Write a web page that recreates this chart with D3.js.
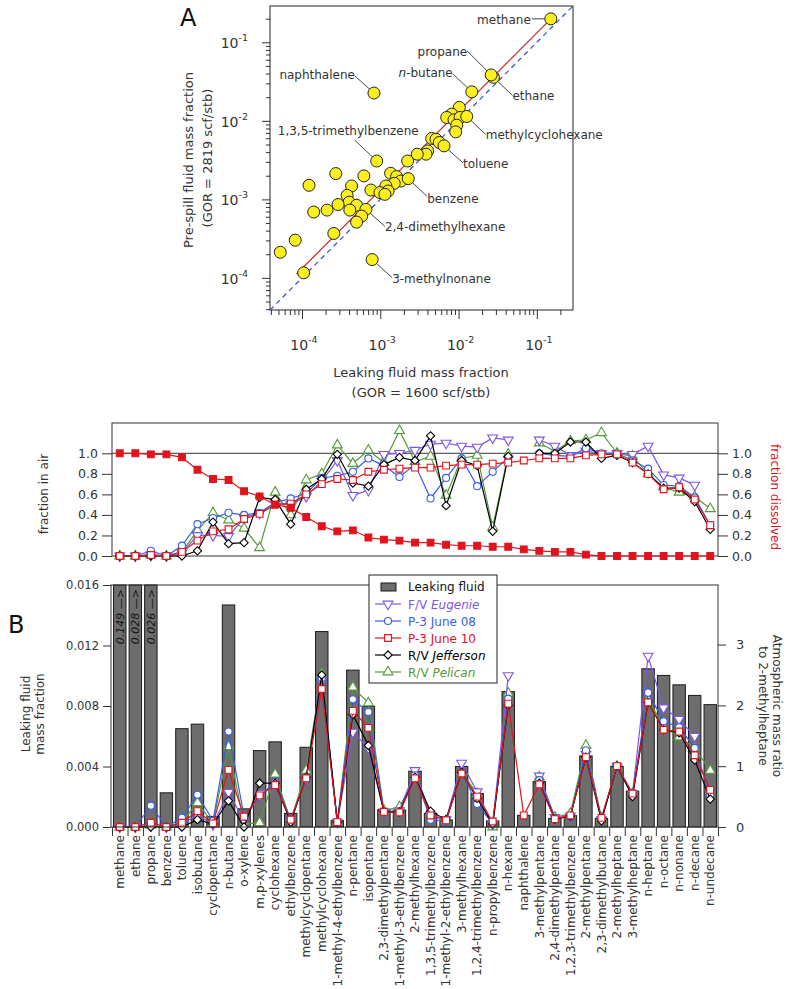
<!DOCTYPE html>
<html>
<head>
<meta charset="utf-8">
<script src="https://cdn.jsdelivr.net/npm/d3@7"></script>
<style>
body { margin: 0; background: #fff; }
svg text { fill: #333; }
.axis line { stroke: #333; }
</style>
</head>
<body>
<div id="chart"></div>
<script>
// ---------- data ----------
// panel A: mass fractions, leaking fluid (x) vs pre-spill fluid (y)
var scatterLeak = [0.151, 0.0279, 0.0261, 0.01476, 8.3e-4, 0.01023, 0.00818, 0.00706, 0.00875, 0.01045,
    0.01273, 0.00948, 0.0092, 0.00454, 0.00515, 0.00568, 0.00652, 0.00403, 0.00384, 0.00297,
    0.00224, 9.0e-4, 2.7e-4, 6.17e-4, 0.001355, 0.001617, 0.001836, 0.002278, 0.001507, 1.23e-4,
    4.3e-4, 0.00118, 7.59e-4, 9.9e-4, 0.00126, 0.001145, 3.77e-4, 4.0e-4, 2.89e-4, 4.98e-4,
    6.55e-4, 1.41e-4, 2.09e-4, 4.08e-4, 5.77e-4, 4.98e-4, 2.55e-4, 7.87e-4, 5.28e-5, 8.2e-5, 1.05e-4];
var scatterPre = [0.199, 0.0358, 0.0384, 0.0234, 0.0226, 0.01483, 0.01219, 0.01104, 0.0103, 0.01104,
    0.01137, 0.00881, 0.00724, 0.00596, 0.00583, 0.0053, 0.0048, 0.00414, 0.00376, 0.00376,
    0.00308, 0.00308, 0.00213, 0.00199, 0.00215, 0.00195, 0.00171, 0.001837, 0.0016, 0.00151,
    0.00148, 0.00148, 0.001315, 0.00122, 0.001277, 0.001158, 0.001125, 9.2e-4, 8.6e-4, 8.4e-4,
    7.45e-4, 6.9e-4, 7.3e-4, 7.3e-4, 6.12e-4, 5.13e-4, 3.68e-4, 1.71e-4, 2.12e-4, 3.02e-4, 1.16e-4];
var scatterNames = ["methane", "ethane", "propane", "n-butane", "naphthalene", "", "", "", "", "",
    "methylcyclohexane", "", "", "", "", "", "toluene", "", "", "",
    "", "1,3,5-trimethylbenzene", "", "", "", "", "", "benzene", "", "",
    "", "", "", "", "", "", "", "", "", "",
    "2,4-dimethylhexane", "", "", "", "", "", "", "3-methylnonane", "", "", ""];
// fitted line (GOR correction)
var fitLeak = [8.5e-5, 0.149];
var fitPre = [1.12e-4, 0.196];

// panel B
var compounds = ["methane", "ethane", "propane", "benzene", "toluene", "isobutane", "cyclopentane", "n-butane",
    "o-xylene", "m,p-xylenes", "cyclohexane", "ethylbenzene", "methylcyclopentane", "methylcyclohexane",
    "1-methyl-4-ethylbenzene", "n-pentane", "isopentane", "2,3-dimethylpentane", "1-methyl-3-ethylbenzene",
    "2-methylhexane", "1,3,5-trimethylbenzene", "1-methyl-2-ethylbenzene", "3-methylhexane",
    "1,2,4-trimethylbenzene", "n-propylbenzene", "n-hexane", "naphthalene", "3-methylpentane",
    "2,4-dimethylpentane", "1,2,3-trimethylbenzene", "2-methylpentane", "2,3-dimethylbutane",
    "2-methylheptane", "3-methylheptane", "n-heptane", "n-octane", "n-nonane", "n-decane", "n-undecane"];

var leakingFluid = [0.149, 0.028, 0.026, 0.00226, 0.0065, 0.0068, 0.0007, 0.01468, 0.0012, 0.00505,
    0.00563, 0.0009, 0.00527, 0.01292, 0.00042, 0.01037, 0.00798, 0.00116, 0.00112, 0.00369,
    0.0009, 0.00046, 0.0040, 0.00222, 0.0004, 0.00895, 0.00077, 0.0030, 0.00057, 0.00075,
    0.0047, 0.00057, 0.00402, 0.00237, 0.01046, 0.01002, 0.0094, 0.0087, 0.00809];

var fractionDissolved = [1.0, 1.0, 0.99, 0.99, 0.96, 0.84, 0.75, 0.74, 0.63, 0.58,
    0.50, 0.47, 0.38, 0.29, 0.24, 0.25, 0.18, 0.16, 0.15, 0.13,
    0.13, 0.11, 0.10, 0.10, 0.09, 0.09, 0.065, 0.05, 0.04, 0.04,
    0.013, 0, 0, 0, 0, 0, 0, 0, 0];

// fraction in air
var eugenieAir = [0, 0, 0.01, 0, 0.03, 0.20, 0.20, 0.19, 0.37, 0.42,
    0.52, 0.50, 0.58, 0.73, 0.93, 0.59, 0.64, 0.99, 1.00, 1.03,
    1.09, 1.10, 1.07, 1.06, 1.15, 1.13, null, 1.13, 1.07, 0.98,
    1.02, 1.00, 1.00, 0.99, 1.07, 0.79, 0.76, 0.69, null];
var june08Air = [0, 0, 0.05, 0, 0.10, 0.31, 0.37, 0.42, 0.40, 0.42,
    0.52, 0.56, 0.61, 0.76, 0.78, 0.82, 0.95, 0.88, 0.77, 0.89,
    0.56, 0.76, 0.95, 0.68, 0.82, 0.96, null, 1.00, 0.98, 0.97,
    1.05, 1.00, 1.00, 0.93, 0.85, 0.69, 0.68, 0.57, 0.30];
var june10Air = [0, 0, 0.01, 0, 0.04, 0.15, 0.24, 0.26, 0.36, 0.41,
    0.50, 0.51, 0.60, 0.70, 0.75, 0.74, 0.82, 0.84, 0.85, 0.86,
    0.86, 0.88, 0.89, 0.89, 0.90, 0.91, 0.93, 0.95, 0.95, 0.95,
    0.98, 0.99, 0.99, 0.91, 0.80, 0.65, 0.67, 0.55, 0.30];
var jeffersonAir = [0, 0, 0, 0, 0, 0.05, 0.33, 0.12, 0.13, 0.57,
    0.55, 0.31, 0.65, 0.75, 0.99, 0.71, 0.68, 0.89, 0.96, 0.93,
    1.17, 0.49, 0.93, 0.88, 0.24, 0.97, null, 1.00, 1.00, 1.11,
    1.11, 0.95, 0.98, 0.91, 0.80, 0.66, 0.66, 0.53, 0.26];
var pelicanAir = [0, 0, 0.01, 0, 0.04, 0.25, 0.42, 0.35, 0.27, 0.08,
    0.62, 0.40, 0.74, 0.80, 1.08, 0.90, 1.03, 0.91, 1.22, 0.92,
    0.97, 0.59, 0.95, 0.98, 0.28, 0.99, null, 1.10, 1.02, 1.12,
    1.13, 1.20, 1.00, 0.97, 0.80, 0.67, 0.62, 0.58, 0.46];

// atmospheric mass ratio to 2-methylheptane
var eugenieRatio = [0, 0, 0.02, 0, 0.05, 0.20, 0.04, 0.57, 0.10, 0.55,
    0.70, 0.10, 0.80, 2.40, 0.08, 1.56, 1.30, 0.25, 0.27, 0.93,
    0.20, 0.12, 1.05, 0.58, 0.05, 2.49, null, 0.84, 0.16, 0.18,
    1.20, 0.12, 1.00, 0.55, 2.81, 1.96, 1.77, 1.49, null];
var june08Ratio = [0, 0, 0.35, 0, 0.15, 0.53, 0.10, 1.57, 0.17, 0.50,
    0.74, 0.13, 0.80, 2.45, 0.08, 2.10, 1.89, 0.25, 0.24, 0.85,
    0.12, 0.10, 0.90, 0.38, 0.05, 2.11, null, 0.77, 0.14, 0.17,
    1.26, 0.13, 1.00, 0.53, 2.21, 1.74, 1.64, 1.30, 0.53];
var june10Ratio = [0, 0, 0.07, 0, 0.07, 0.26, 0.06, 0.94, 0.17, 0.52,
    0.69, 0.12, 0.80, 2.27, 0.08, 1.91, 1.63, 0.25, 0.24, 0.80,
    0.19, 0.11, 0.88, 0.50, 0.09, 2.03, 0.19, 0.70, 0.13, 0.19,
    1.15, 0.15, 1.00, 0.55, 2.05, 1.60, 1.57, 1.18, 0.61];
var jeffersonRatio = [0, 0, 0, 0, 0, 0.12, 0.05, 0.43, 0, 0.72,
    0.72, 0.08, 0.82, 2.50, 0.08, 1.85, 1.34, 0.25, 0.25, 0.82,
    0.26, 0.12, 0.90, 0.47, 0.05, 2.00, null, 0.72, 0.13, 0.18,
    1.15, 0.10, 1.00, 0.50, 2.05, 1.60, 1.55, 1.10, 0.46];
var pelicanRatio = [0, 0, 0.03, 0, 0.08, 0.40, 0.06, 1.32, 0.05, 0.07,
    0.87, 0.10, 0.93, 2.52, 0.08, 2.30, 2.04, 0.27, 0.33, 0.82,
    0.22, 0.10, 0.90, 0.55, 0.0, 2.20, null, 0.82, 0.16, 0.22,
    1.34, 0.14, 1.00, 0.55, 2.10, 1.65, 1.48, 1.30, 0.93];

// ---------- svg ----------
var svg = d3.select("#chart").append("svg")
    .attr("width", 787)
    .attr("height", 989)
    .style("font-family", "'DejaVu Sans', sans-serif");

function noDomain(g) { g.select(".domain").remove(); }

// ================= panel A =================
var pa = { left: 270, right: 573, top: 6, bottom: 310 };
var logDomain = [3.9e-5, 0.29];
var xA = d3.scaleLog().domain(logDomain).range([pa.left, pa.right]);
var yA = d3.scaleLog().domain(logDomain).range([pa.bottom, pa.top]);

var majorTicks = [1e-4, 1e-3, 1e-2, 1e-1];
var minorTicks = [];
[-5, -4, -3, -2, -1].forEach(function(e) {
    for (var m = 2; m <= 9; m++) {
        var v = m * Math.pow(10, e);
        if (v >= logDomain[0] && v <= logDomain[1]) minorTicks.push(v);
    }
});

svg.append("g").attr("class", "axis")
    .attr("transform", "translate(0," + pa.bottom + ")")
    .call(d3.axisBottom(xA).tickValues(minorTicks).tickSize(5).tickFormat(""))
    .call(noDomain);
svg.append("g").attr("class", "axis")
    .attr("transform", "translate(0," + pa.bottom + ")")
    .call(d3.axisBottom(xA).tickValues(majorTicks).tickSize(9).tickFormat(""))
    .call(noDomain);
svg.append("g").attr("class", "axis")
    .attr("transform", "translate(" + pa.left + ",0)")
    .call(d3.axisLeft(yA).tickValues(minorTicks).tickSize(4).tickFormat(""))
    .call(noDomain);
svg.append("g").attr("class", "axis")
    .attr("transform", "translate(" + pa.left + ",0)")
    .call(d3.axisLeft(yA).tickValues(majorTicks).tickSize(8).tickFormat(""))
    .call(noDomain);

function powerLabel(x, y, v, anchor) {
    var t = svg.append("text")
        .attr("x", x).attr("y", y)
        .attr("text-anchor", anchor)
        .style("font-size", "14px");
    t.append("tspan").text("10");
    t.append("tspan").attr("dy", -7).style("font-size", "9.5px")
        .text("-" + Math.abs(Math.round(Math.log10(v))));
}
majorTicks.forEach(function(v) {
    powerLabel(xA(v) + 2, 350, v, "middle");
    powerLabel(pa.left - 22, yA(v) + 6, v, "end");
});

svg.append("rect")
    .attr("x", pa.left).attr("y", pa.top)
    .attr("width", pa.right - pa.left).attr("height", pa.bottom - pa.top)
    .attr("fill", "none").attr("stroke", "#222");

// 1:1 line and fit line
svg.append("line")
    .attr("x1", xA(logDomain[0])).attr("y1", yA(logDomain[0]))
    .attr("x2", xA(logDomain[1])).attr("y2", yA(logDomain[1]))
    .attr("stroke", "#3a55d8").attr("stroke-width", 1.3)
    .attr("stroke-dasharray", "5,4");
svg.append("line")
    .attr("x1", xA(fitLeak[0])).attr("y1", yA(fitPre[0]))
    .attr("x2", xA(fitLeak[1])).attr("y2", yA(fitPre[1]))
    .attr("stroke", "#c83030").attr("stroke-width", 1.3);

// label placements relative to the point: text position, anchor, leader end
var labelSpots = {
    "methane": { tx: -20, ty: 5, anchor: "end", lx: -19, ly: 0 },
    "propane": { tx: -24, ty: -19, anchor: "end", lx: -24, ly: -24 },
    "n-butane": { tx: -19, ty: -15, anchor: "end", lx: -19, ly: -18 },
    "ethane": { tx: 19, ty: 23, anchor: "start", lx: 19, ly: 18 },
    "naphthalene": { tx: -19, ty: -14, anchor: "end", lx: -19, ly: -17 },
    "1,3,5-trimethylbenzene": { tx: 42, ty: -26, anchor: "end", lx: -22, ly: -21 },
    "methylcyclohexane": { tx: 19, ty: 23, anchor: "start", lx: 19, ly: 18 },
    "toluene": { tx: 19, ty: 22, anchor: "start", lx: 19, ly: 17 },
    "benzene": { tx: 19, ty: 24, anchor: "start", lx: 19, ly: 18 },
    "2,4-dimethylhexane": { tx: 19, ty: 22, anchor: "start", lx: 19, ly: 17 },
    "3-methylnonane": { tx: 20, ty: 23, anchor: "start", lx: 20, ly: 18 }
};

var scatterData = scatterLeak.map(function(d, i) {
    return { x: d, y: scatterPre[i], name: scatterNames[i] };
});
var named = scatterData.filter(function(d) { return d.name !== ""; });

svg.selectAll(".leader")
    .data(named)
    .enter().append("line")
    .attr("class", "leader")
    .attr("x1", function(d) { return xA(d.x); })
    .attr("y1", function(d) { return yA(d.y); })
    .attr("x2", function(d) { return xA(d.x) + labelSpots[d.name].lx; })
    .attr("y2", function(d) { return yA(d.y) + labelSpots[d.name].ly; })
    .attr("stroke", "#333").attr("stroke-width", 0.9);

svg.selectAll(".pt")
    .data(scatterData)
    .enter().append("circle")
    .attr("class", "pt")
    .attr("cx", function(d) { return xA(d.x); })
    .attr("cy", function(d) { return yA(d.y); })
    .attr("r", 6)
    .attr("fill", "#fbef1e")
    .attr("stroke", "#222")
    .attr("stroke-width", 1);

named.forEach(function(d) {
    var s = labelSpots[d.name];
    var t = svg.append("text")
        .attr("x", xA(d.x) + s.tx)
        .attr("y", yA(d.y) + s.ty)
        .attr("text-anchor", s.anchor)
        .style("font-size", "12px");
    if (d.name === "n-butane") {
        t.append("tspan").style("font-style", "italic").text("n");
        t.append("tspan").text("-butane");
    } else {
        t.text(d.name);
    }
});

svg.append("text").attr("x", 180).attr("y", 26)
    .style("font-size", "24px").style("fill", "#111").text("A");

svg.append("text")
    .attr("transform", "translate(193,160) rotate(-90)")
    .attr("text-anchor", "middle").style("font-size", "13px")
    .text("Pre-spill fluid mass fraction");
svg.append("text")
    .attr("transform", "translate(212,158) rotate(-90)")
    .attr("text-anchor", "middle").style("font-size", "13px")
    .text("(GOR = 2819 scf/stb)");
svg.append("text")
    .attr("x", 421).attr("y", 377)
    .attr("text-anchor", "middle").style("font-size", "13px")
    .text("Leaking fluid mass fraction");
svg.append("text")
    .attr("x", 421).attr("y", 397)
    .attr("text-anchor", "middle").style("font-size", "13px")
    .text("(GOR = 1600 scf/stb)");

// ================= panel B =================
var xB = d3.scaleBand()
    .domain(compounds)
    .range([112, 718])
    .paddingInner(0.2)
    .paddingOuter(0.1);
function cx(i) { return xB(compounds[i]) + xB.bandwidth() / 2; }

var colors = { purple: "#7f55e5", blue: "#3a5ee8", red: "#e0141c", black: "#000", green: "#559a36" };

var series = [
    { label: "F/V ", italic: "Eugenie", color: colors.purple, shape: "down", air: eugenieAir, ratio: eugenieRatio },
    { label: "P-3 June 08", italic: "", color: colors.blue, shape: "circle", air: june08Air, ratio: june08Ratio },
    { label: "P-3 June 10", italic: "", color: colors.red, shape: "square", air: june10Air, ratio: june10Ratio },
    { label: "R/V ", italic: "Jefferson", color: colors.black, shape: "diamond", air: jeffersonAir, ratio: jeffersonRatio },
    { label: "R/V ", italic: "Pelican", color: colors.green, shape: "up", air: pelicanAir, ratio: pelicanRatio }
];
var drawOrder = [4, 0, 1, 3, 2];

var symbols = {
    down: { path: d3.symbol().type(d3.symbolTriangle).size(42)(), rot: 180 },
    up: { path: d3.symbol().type(d3.symbolTriangle).size(42)(), rot: 0 },
    circle: { path: d3.symbol().type(d3.symbolCircle).size(40)(), rot: 0 },
    square: { path: d3.symbol().type(d3.symbolSquare).size(46)(), rot: 0 },
    diamond: { path: d3.symbol().type(d3.symbolSquare).size(34)(), rot: 45 }
};

function drawSeries(g, values, yScale, color, shape, filled) {
    var pts = values.map(function(v, i) { return [i, v]; });
    var line = d3.line()
        .defined(function(d) { return d[1] !== null; })
        .x(function(d) { return cx(d[0]); })
        .y(function(d) { return yScale(d[1]); });
    g.append("path")
        .datum(pts)
        .attr("d", line)
        .attr("fill", "none")
        .attr("stroke", color)
        .attr("stroke-width", 1.2);
    g.selectAll(null)
        .data(pts.filter(function(d) { return d[1] !== null; }))
        .enter().append("path")
        .attr("d", symbols[shape].path)
        .attr("transform", function(d) {
            return "translate(" + cx(d[0]) + "," + yScale(d[1]) + ") rotate(" + symbols[shape].rot + ")";
        })
        .attr("fill", filled ? color : "#fff")
        .attr("stroke", color)
        .attr("stroke-width", 1.1);
}

// ---- middle: fraction in air ----
var pm = { top: 423, bottom: 556 };
var yM = d3.scaleLinear().domain([0, 1.295]).range([pm.bottom, pm.top]);
var airTicks = [0, 0.2, 0.4, 0.6, 0.8, 1.0];

svg.append("g").attr("class", "axis")
    .attr("transform", "translate(112,0)")
    .call(d3.axisLeft(yM).tickValues(airTicks).tickSize(10).tickPadding(4).tickFormat(d3.format(".1f")))
    .call(noDomain)
    .selectAll("text").style("font-size", "12.5px").style("font-family", "'DejaVu Sans', sans-serif");
svg.append("g").attr("class", "axis")
    .attr("transform", "translate(718,0)")
    .call(d3.axisRight(yM).tickValues(airTicks).tickSize(10).tickPadding(4).tickFormat(d3.format(".1f")))
    .call(noDomain)
    .selectAll("text").style("font-size", "12.5px").style("font-family", "'DejaVu Sans', sans-serif");

svg.append("rect")
    .attr("x", 112).attr("y", pm.top)
    .attr("width", 718 - 112).attr("height", pm.bottom - pm.top)
    .attr("fill", "none").attr("stroke", "#333");
svg.append("line")
    .attr("x1", 112).attr("x2", 718)
    .attr("y1", yM(1)).attr("y2", yM(1))
    .attr("stroke", "#333");

var gAir = svg.append("g");
drawOrder.forEach(function(k) {
    drawSeries(gAir, series[k].air, yM, series[k].color, series[k].shape, false);
});
drawSeries(gAir, fractionDissolved, yM, colors.red, "square", true);

svg.append("text")
    .attr("transform", "translate(48,494) rotate(-90)")
    .attr("text-anchor", "middle").style("font-size", "12px")
    .text("fraction in air");
svg.append("text")
    .attr("transform", "translate(771,497) rotate(90)")
    .attr("text-anchor", "middle").style("font-size", "12px")
    .style("fill", colors.red)
    .text("fraction dissolved");

// ---- bottom: leaking fluid + atmospheric ratios ----
var pb = { top: 585, bottom: 827 };
var massMax = 0.016;
var yB = d3.scaleLinear().domain([0, massMax]).range([pb.bottom, pb.top]);
var yR = d3.scaleLinear().domain([0, massMax / leakingFluid[compounds.indexOf("2-methylheptane")]]).range([pb.bottom, pb.top]);

svg.append("g").attr("class", "axis")
    .attr("transform", "translate(111,0)")
    .call(d3.axisLeft(yB).tickValues([0, 0.004, 0.008, 0.012, 0.016]).tickSize(8).tickPadding(4).tickFormat(d3.format(".3f")))
    .call(noDomain)
    .selectAll("text").style("font-size", "11.5px").style("font-family", "'DejaVu Sans', sans-serif");
svg.append("g").attr("class", "axis")
    .attr("transform", "translate(718,0)")
    .call(d3.axisRight(yR).tickValues([0, 1, 2, 3]).tickSize(8).tickPadding(10).tickFormat(d3.format("d")))
    .call(noDomain)
    .selectAll("text").style("font-size", "13px").style("font-family", "'DejaVu Sans', sans-serif");

svg.selectAll(".bar")
    .data(leakingFluid)
    .enter().append("rect")
    .attr("class", "bar")
    .attr("x", function(d, i) { return xB(compounds[i]); })
    .attr("width", xB.bandwidth())
    .attr("y", function(d) { return yB(Math.min(d, massMax)); })
    .attr("height", function(d) { return pb.bottom - yB(Math.min(d, massMax)); })
    .attr("fill", "#6d6d6d")
    .attr("stroke", "#1a1a1a")
    .attr("stroke-width", 1);

leakingFluid.forEach(function(d, i) {
    if (d > massMax) {
        svg.append("text")
            .attr("transform", "translate(" + (cx(i) + 4) + "," + (pb.top + 4) + ") rotate(-90)")
            .attr("text-anchor", "end")
            .style("font-size", "11px").style("font-style", "italic")
            .style("fill", "#111")
            .text(d3.format(".3f")(d) + " \u2014>");
    }
});

var gRatio = svg.append("g");
drawOrder.forEach(function(k) {
    drawSeries(gRatio, series[k].ratio, yR, series[k].color, series[k].shape, false);
});

svg.append("rect")
    .attr("x", 111).attr("y", pb.top)
    .attr("width", 718 - 111).attr("height", pb.bottom - pb.top)
    .attr("fill", "none").attr("stroke", "#333");

// category separators and labels
var sepScale = d3.scaleLinear().domain([0, compounds.length]).range([112, 718]);
svg.append("g").attr("class", "axis")
    .attr("transform", "translate(0," + pb.bottom + ")")
    .call(d3.axisBottom(sepScale).tickValues(d3.range(compounds.length + 1)).tickSize(9).tickFormat(""))
    .call(noDomain);
svg.append("g").attr("class", "axis")
    .attr("transform", "translate(0," + (pb.bottom + 8) + ")")
    .call(d3.axisBottom(xB).tickSize(0).tickPadding(0))
    .call(noDomain)
    .selectAll("text")
    .style("font-size", "12px")
    .style("font-family", "'DejaVu Sans', sans-serif")
    .attr("text-anchor", "end")
    .attr("transform", "rotate(-90)")
    .attr("x", 0)
    .attr("y", 0)
    .attr("dy", "0.35em");

// legend
var lg = svg.append("g").attr("transform", "translate(369,575)");
lg.append("rect").attr("width", 128).attr("height", 108)
    .attr("fill", "#fff").attr("stroke", "#222");
lg.append("rect").attr("x", 12).attr("y", 8).attr("width", 15).attr("height", 8)
    .attr("fill", "#6d6d6d").attr("stroke", "#1a1a1a");
lg.append("text").attr("x", 39).attr("y", 16).style("font-size", "12px")
    .style("fill", "#111").text("Leaking fluid");
series.forEach(function(s, i) {
    var y = 29 + i * 17;
    lg.append("line").attr("x1", 6).attr("x2", 32).attr("y1", y).attr("y2", y)
        .attr("stroke", s.color).attr("stroke-width", 1.2);
    lg.append("path").attr("d", symbols[s.shape].path)
        .attr("transform", "translate(19," + y + ") rotate(" + symbols[s.shape].rot + ")")
        .attr("fill", "#fff").attr("stroke", s.color).attr("stroke-width", 1.1);
    var t = lg.append("text").attr("x", 39).attr("y", y + 4.5)
        .style("font-size", "12px").style("fill", s.color);
    t.append("tspan").text(s.label);
    if (s.italic) t.append("tspan").style("font-style", "italic").text(s.italic);
});

svg.append("text").attr("x", 8).attr("y", 633)
    .style("font-size", "24px").style("fill", "#111").text("B");

svg.append("text")
    .attr("transform", "translate(30,714) rotate(-90)")
    .attr("text-anchor", "middle").style("font-size", "12px")
    .text("Leaking fluid");
svg.append("text")
    .attr("transform", "translate(44,714) rotate(-90)")
    .attr("text-anchor", "middle").style("font-size", "12px")
    .text("mass fraction");
svg.append("text")
    .attr("transform", "translate(773,706) rotate(90)")
    .attr("text-anchor", "middle").style("font-size", "12px")
    .text("Atmospheric mass ratio");
svg.append("text")
    .attr("transform", "translate(759,706) rotate(90)")
    .attr("text-anchor", "middle").style("font-size", "12px")
    .text("to 2-methylheptane");
</script>
</body>
</html>
